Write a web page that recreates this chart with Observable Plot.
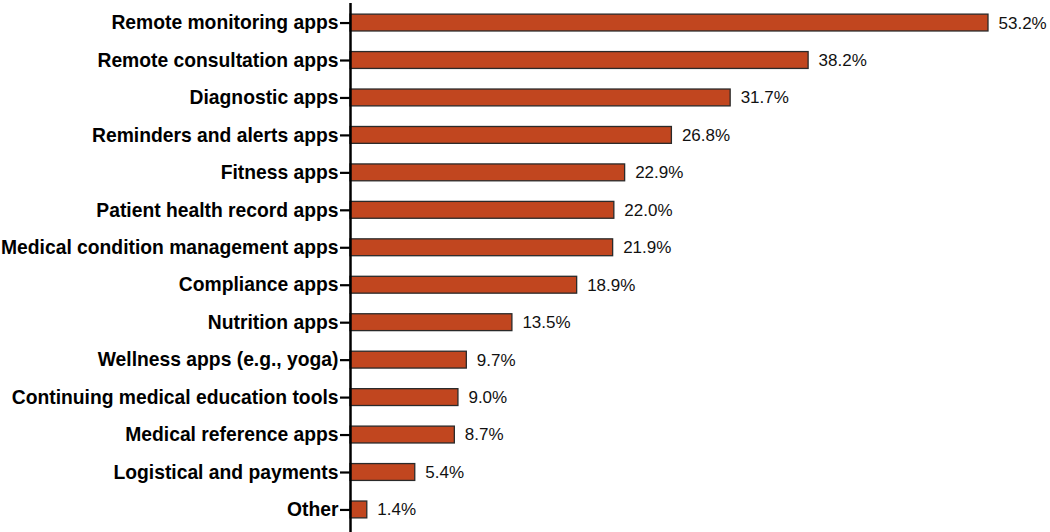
<!DOCTYPE html>
<html><head><meta charset="utf-8">
<script src="https://cdn.jsdelivr.net/npm/d3@7"></script>
<script src="https://cdn.jsdelivr.net/npm/@observablehq/plot@0.6"></script>
<style>body{margin:0;background:#fff}</style>
</head><body><div id="chart"></div>
<script>
const categories = ["Remote monitoring apps","Remote consultation apps","Diagnostic apps","Reminders and alerts apps","Fitness apps","Patient health record apps","Medical condition management apps","Compliance apps","Nutrition apps","Wellness apps (e.g., yoga)","Continuing medical education tools","Medical reference apps","Logistical and payments","Other"];
const values = [53.2,38.2,31.7,26.8,22.9,22.0,21.9,18.9,13.5,9.7,9.0,8.7,5.4,1.4];
const data = categories.map((c,i)=>({category:c, value:values[i]}));

const chart = Plot.plot({
  width: 1050, height: 532,
  marginLeft: 350, marginRight: 62, marginTop: 0, marginBottom: 0,
  style: {fontFamily: "'Liberation Sans', Arial, sans-serif", background: "#fff"},
  x: {domain: [0, d3.max(values)], axis: null},
  y: {domain: categories, paddingInner: 0.55, paddingOuter: 0.377, round: false, label: null},
  marks: [
    Plot.barX(data, {x: "value", y: "category", fill: "#c1461f", stroke: "#2a2a2a", strokeWidth: 1.3}),
    Plot.text(data, {x: "value", y: "category", text: d => d.value.toFixed(1) + "%", textAnchor: "start", dx: 10, fontSize: 17, fill: "#111"}),
    Plot.axisY({tickSize: 10, tickPadding: 2, fontSize: 19.3, fontWeight: "bold", stroke: "#000", strokeWidth: 2.2, fill: "#000", label: null}),
    Plot.ruleX([0], {stroke: "#000", strokeWidth: 2.5, insetTop: 3})
  ]
});
document.getElementById("chart").appendChild(chart);
</script></body></html>
